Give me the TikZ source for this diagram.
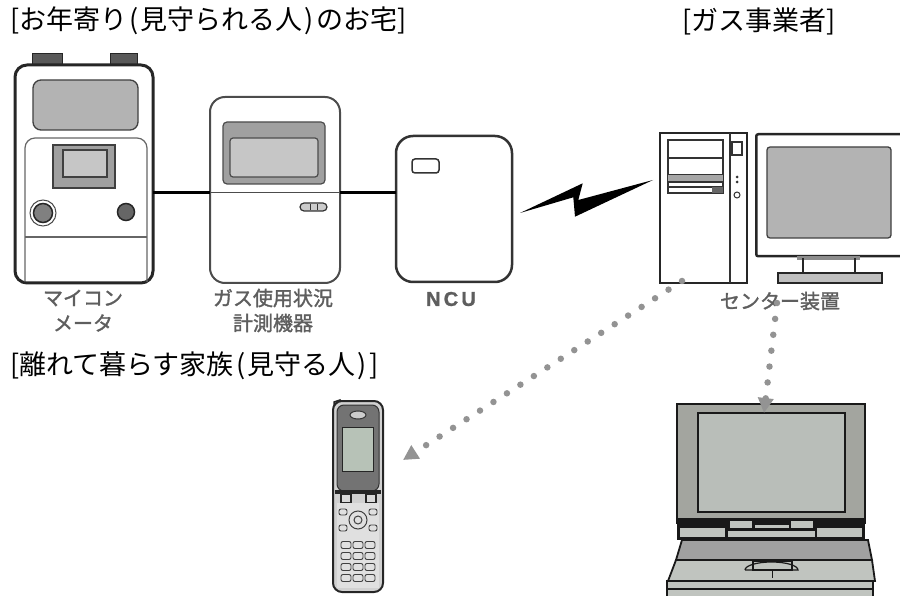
\documentclass[tikz,border=0pt]{standalone}
\usepackage{fontspec}
\setmainfont{Noto Sans CJK JP}
\newfontfamily\latinsans{Liberation Sans}[LetterSpace=16, FakeBold=1.2]
\newfontfamily\labelfont{Noto Sans CJK JP}[FakeBold=1.6]
\usetikzlibrary{arrows.meta}

\definecolor{dotgray}{HTML}{939393}
\definecolor{labelgray}{HTML}{5E5E5E}
\definecolor{panelgray}{HTML}{B3B3B3}
\definecolor{panellight}{HTML}{C6C6C6}
\definecolor{lidgray}{HTML}{A3A59F}
\definecolor{lcdgray}{HTML}{B9BEB9}
\definecolor{keygray}{HTML}{A0A0A0}
\definecolor{restgray}{HTML}{C0C4BF}
\definecolor{phonescreen}{HTML}{B7C2B7}

% small gap around the parentheses of the headings
\newcommand{\lp}{\hspace{2.5pt}(\hspace{2pt}}
\newcommand{\rp}{\hspace{2pt})\hspace{2.5pt}}

\tikzset{
  title/.style={anchor=west, inner sep=0pt, font=\fontsize{27}{29}\selectfont},
  devlabel/.style={inner sep=0pt, text=labelgray, font=\labelfont\fontsize{20}{22}\selectfont},
  devbox/.style={draw=black!80, line width=2.5pt, fill=white, inner sep=0pt},
  cable/.style={line width=3pt, black},
  dotlink/.style={draw=dotgray, line width=6.5pt, line cap=round,
    dash pattern=on 0pt off 16pt,
    -{Triangle[length=15pt,width=15pt,fill=dotgray]}},
  screen/.style={fill=panelgray, draw=black!75, line width=1.3pt},
}

\begin{document}
\begin{tikzpicture}[x=1pt,y=-1pt]
\useasboundingbox (0,0) rectangle (900,596);

% ---------- titles ----------
\node[title] (t-home) at (10,21) {[お年寄り\lp 見守られる人\rp のお宅]};
\node[title] (t-gas) at (682,21) {[ガス事業者]};
\node[title] (t-family) at (10,366) {[離れて暮らす家族\lp 見守る人\rp]};

% ---------- gas meter ----------
\fill[black!65, draw=black!85, line width=1pt] (32,54) rectangle (62,70);
\fill[black!65, draw=black!85, line width=1pt] (110,54) rectangle (137,70);
\node[devbox, draw=black!85, line width=3pt, rounded corners=12pt, minimum width=138pt, minimum height=218pt] (meter) at (84,174) {};
\draw[screen, rounded corners=8pt] (33,80) rectangle (138,130);
\draw[black!60, line width=1.2pt, rounded corners=10pt] (25,282) -- (25,138) -- (147,138) -- (147,282);
\draw[black!60, line width=1.2pt] (25,237) -- (147,237);
\draw[fill=keygray, draw=black!75, line width=1.2pt] (53,145) rectangle (115,188);
\draw[fill=panellight, draw=black!75, line width=1.2pt] (63,150) rectangle (107,177);
\draw[black!70, line width=1pt] (43,213) circle (13);
\draw[fill=black!50, draw=black!85, line width=1.5pt] (43,213) circle (9.5);
\draw[fill=black!60, draw=black!85, line width=1.5pt] (126,212) circle (8.5);
\node[devlabel] (l-meter1) at (83,298) {マイコン};
\node[devlabel] (l-meter2) at (83,323) {メータ};

% ---------- usage monitor ----------
\node[devbox, draw=black!70, line width=2pt, rounded corners=15pt, minimum width=130pt, minimum height=186pt] (monitor) at (275,190) {};
\draw[fill=keygray, draw=black!70, line width=1.2pt, rounded corners=4pt] (223,122) rectangle (325,184);
\draw[fill=panellight, draw=black!70, line width=1.2pt, rounded corners=3pt] (230,138) rectangle (318,177);
\draw[fill=black!20, draw=black!80, line width=1.2pt, rounded corners=4pt] (300,203) rectangle (327,211);
\draw[black!80, line width=1pt] (310,204) -- (310,210) (317,204) -- (317,210);
\node[devlabel] (l-mon1) at (273,298) {ガス使用状況};
\node[devlabel] (l-mon2) at (273,323) {計測機器};

% ---------- NCU ----------
\node[devbox, rounded corners=17pt, minimum width=116pt, minimum height=146pt] (ncu) at (454,209) {};
\draw[black!80, line width=1.5pt, rounded corners=3pt] (412,159) rectangle (439,173);
\node[devlabel, font=\latinsans\bfseries\fontsize{20}{22}\selectfont] (l-ncu) at (451,299) {NCU};

% ---------- wiring ----------
\coordinate (meter-out) at (153,193);
\coordinate (mon-in) at (210,193);
\coordinate (mon-out) at (340,193);
\coordinate (ncu-in) at (396,193);
\draw[cable] (meter-out) -- (mon-in);
\draw[black!70, line width=1pt] (mon-in) -- (mon-out);
\draw[cable] (mon-out) -- (ncu-in);

% ---------- radio link ----------
\fill[black] (520,213) -- (582.7,183.3) -- (578.3,200) -- (653,180)
  -- (575,216.7) -- (573.3,197.3) -- cycle;

% ---------- center computer ----------
\node[devbox, draw=black!85, line width=2.5pt, minimum width=87pt, minimum height=150pt] (tower) at (703.5,208) {};
\draw[black!80, line width=1.5pt] (730,133) -- (730,283);
\draw[black!80, line width=1.5pt] (668,140) rectangle (723,193);
\draw[black!80, line width=1.2pt] (668,158) -- (723,158) (668,175) -- (723,175);
\fill[black!35] (668,175) rectangle (723,182);
\draw[black!80, line width=1.2pt] (668,182) -- (723,182) (668,187) -- (723,187);
\fill[black!60] (712,187) rectangle (723,193);
\draw[black!80, line width=1.3pt] (732,142) rectangle (742,155);
\fill[black!80] (737,177) circle (1.5) (737,182) circle (1.5);
\draw[black!80, line width=1pt] (737,195) circle (3);

\node[devbox, draw=black!85, line width=2.5pt, rounded corners=2pt, minimum width=160pt, minimum height=122pt, anchor=north west] (display) at (755,133) {};
\draw[screen, fill=panelgray, rounded corners=3pt] (767,147) rectangle (891,238);
\fill[black!45] (797,256) rectangle (860,260);
\draw[black!85, line width=1.5pt] (803,258) -- (803,273) (855,258) -- (855,273);
\draw[fill=black!25, draw=black!85, line width=1.5pt] (778,273) rectangle (882,283);
\node[devlabel] (l-center) at (780,301) {センター装置};

% ---------- mobile phone ----------
\draw[fill=black!30, draw=black!85, line width=1.5pt] (334,412) -- (334,402) -- (340,400) -- (341,410);
\draw[fill=black!18, draw=black!85, line width=2pt, rounded corners=9pt] (333,401) rectangle (383,592);
\draw[fill=black!55, draw=black!80, line width=1pt, rounded corners=7pt] (337,405) rectangle (379,491);
\draw[fill=black!20, draw=black!80, line width=1pt] (358,415) ellipse (8 and 4);
\draw[fill=phonescreen, draw=black!85, line width=1pt] (342,427) rectangle (373,471);
\fill[black!85] (335,490) rectangle (381,494);
\draw[fill=black!15, draw=black!85, line width=1.2pt] (341,494) rectangle (351,503) (366,494) rectangle (376,503);
\fill[black!12] (337,503) rectangle (379,588);
\draw[black!75, line width=1pt] (358,520) circle (9) (358,520) circle (4);
\foreach \yy in {512,528}{
  \draw[black!75, line width=0.9pt, rounded corners=2pt] (339,\yy-3) rectangle (347,\yy+3);
  \draw[black!75, line width=0.9pt, rounded corners=2pt] (369,\yy-3) rectangle (377,\yy+3);
}
\foreach \yy in {545,556,567,578}{
  \foreach \xx in {346,358,370}{
    \draw[black!75, line width=0.9pt, rounded corners=2pt] (\xx-5,\yy-3.5) rectangle (\xx+5,\yy+3.5);
  }
}
\coordinate (phone-tip) at (403,460);

% ---------- notebook PC ----------
\draw[fill=lidgray, draw=black!90, line width=2.5pt] (677,404) rectangle (865,523);
\node[draw=black!90, line width=1.5pt, fill=lcdgray, inner sep=0pt, minimum width=147pt, minimum height=99pt] (laptop) at (771.5,462.5) {};
\fill[black!90] (677,518) rectangle (865,540);
\fill[restgray] (680,528) rectangle (725,537);
\fill[restgray] (817,528) rectangle (862,537);
\fill[restgray] (728,531) rectangle (815,537);
\fill[restgray] (730,521) rectangle (752,528);
\fill[restgray] (791,521) rectangle (813,528);
\fill[restgray] (755,525) rectangle (789,528);
\draw[fill=keygray, draw=black!90, line width=1.8pt] (682,540) -- (868,540) -- (872,560) -- (676,560) -- cycle;
\draw[fill=restgray, draw=black!90, line width=1.8pt] (676,560) -- (872,560) -- (875,581) -- (668,581) -- cycle;
\draw[fill=restgray, draw=black!90, line width=1.2pt] (753,561) rectangle (792,570);
\draw[black!90, line width=1.2pt] (745,570) -- (798,570) arc[start angle=0, end angle=-180, x radius=26.5, y radius=8];
\draw[black!90, line width=1pt] (772,570) -- (772,578);
\draw[fill=restgray, draw=black!90, line width=2.2pt] (667,581) rectangle (873,600);
\draw[black!90, line width=1.2pt] (667,589) -- (873,589);

% ---------- notification links ----------
\coordinate (tower-port) at (682,281);
\coordinate (center-port) at (777,303);
\coordinate (laptop-tip) at (764,413);
\draw[dotlink] (tower-port) -- (phone-tip);
\draw[dotlink] (center-port) -- (laptop-tip);

\end{tikzpicture}
\end{document}
